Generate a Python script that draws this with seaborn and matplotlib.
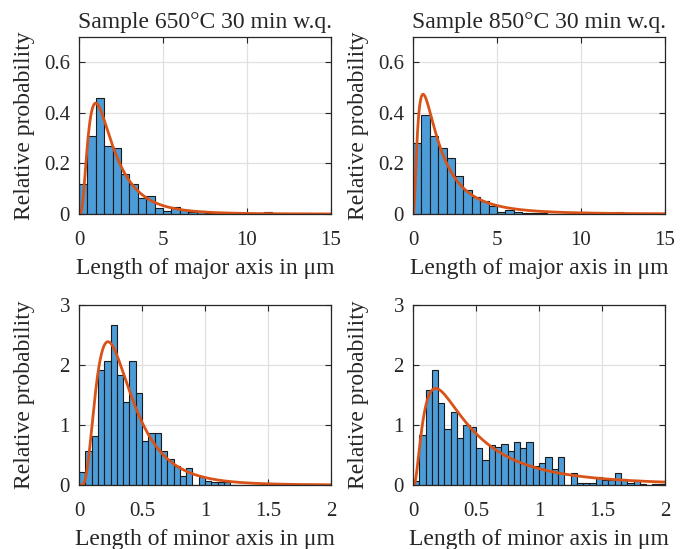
import numpy as np
import pandas as pd
import matplotlib
matplotlib.use("Agg")
import matplotlib.pyplot as plt
import seaborn as sns

# ---------------- data ----------------
titles = ["Sample 650°C 30 min w.q.", "Sample 850°C 30 min w.q."]
xlabel_major = "Length of major axis in μm"
xlabel_minor = "Length of minor axis in μm"
ylabel = "Relative probability"

major_bin_width = 0.5
major_range = (0, 15)
minor_bin_width = 0.05
minor_range = (0, 2)

major_650 = [0.12, 0.31, 0.46, 0.27, 0.26, 0.16, 0.12, 0.063, 0.071, 0.024,
             0.010, 0.026, 0.017, 0.007, 0.010, 0.003, 0.003, 0.0, 0.0, 0.002,
             0.002, 0.0, 0.007, 0.0, 0.0, 0.0, 0.0, 0.0, 0.0, 0.0]
major_850 = [0.28, 0.39, 0.31, 0.26, 0.22, 0.15, 0.093, 0.067, 0.05, 0.03,
             0.009, 0.016, 0.006, 0.005, 0.003, 0.002, 0.0, 0.0, 0.0, 0.0,
             0.009, 0.0, 0.0, 0.0, 0.009, 0.0, 0.0, 0.0, 0.0, 0.0]
minor_650 = [0.21, 0.57, 0.81, 1.92, 2.07, 2.66, 1.84, 1.39, 2.07, 1.54,
             0.73, 0.87, 0.87, 0.57, 0.43, 0.31, 0.15, 0.29, 0.0, 0.14,
             0.07, 0.05, 0.05, 0.05, 0.0, 0.0, 0.0, 0.0, 0.0, 0.0,
             0.0, 0.0, 0.0, 0.0, 0.0, 0.0, 0.0, 0.0, 0.0, 0.0]
minor_850 = [0.07, 0.83, 1.58, 1.92, 1.36, 0.94, 1.21, 0.78, 1.00, 0.97,
             0.62, 0.42, 0.67, 0.63, 0.68, 0.57, 0.72, 0.62, 0.72, 0.31,
             0.37, 0.47, 0.26, 0.47, 0.0, 0.20, 0.04, 0.04, 0.04, 0.14,
             0.08, 0.08, 0.20, 0.10, 0.04, 0.09, 0.02, 0.0, 0.02, 0.02]

# lognormal fit parameters (mu, sigma) of the red curves
fit_major_650 = (0.50, 0.71)
fit_major_850 = (0.335, 0.92)
fit_minor_650 = (-1.104, 0.605)
fit_minor_850 = (-0.887, 0.91)

major_yticks = [0, 0.2, 0.4, 0.6]
major_ylim = (0, 0.7)
major_xticks = [0, 5, 10, 15]
minor_yticks = [0, 1, 2, 3]
minor_ylim = (0, 3)
minor_xticks = [0, 0.5, 1, 1.5, 2]

# ---------------- style ----------------
sns.set_style("ticks")
plt.rcParams["font.family"] = ["Liberation Serif", "DejaVu Serif"]
plt.rcParams["axes.unicode_minus"] = False

BAR_COLOR = "#4C9CD7"
EDGE_COLOR = "#1a1a1a"
LINE_COLOR = "#D95319"
GRID_COLOR = "#e0e0e0"
AX_COLOR = "#262626"
TEXT_COLOR = "#262626"

LABEL_SIZE = 17
TICK_SIZE = 15

fig = plt.figure(figsize=(6.9, 5.49), dpi=100)
W, H = 690, 549

def add_axes(left, top, right, bottom):
    return fig.add_axes([left / W, (H - bottom) / H, (right - left) / W, (bottom - top) / H])

axes = [
    add_axes(79, 37, 331, 214),
    add_axes(413, 37, 665, 214),
    add_axes(79, 305, 331, 485),
    add_axes(413, 305, 665, 485),
]

def lognorm_pdf(x, mu, s):
    x = np.asarray(x, dtype=float)
    out = np.zeros_like(x)
    m = x > 0
    out[m] = np.exp(-(np.log(x[m]) - mu) ** 2 / (2 * s * s)) / (x[m] * s * np.sqrt(2 * np.pi))
    return out

panels = [
    (major_650, major_bin_width, major_range, fit_major_650, major_xticks, major_yticks, major_ylim, xlabel_major, titles[0]),
    (major_850, major_bin_width, major_range, fit_major_850, major_xticks, major_yticks, major_ylim, xlabel_major, titles[1]),
    (minor_650, minor_bin_width, minor_range, fit_minor_650, minor_xticks, minor_yticks, minor_ylim, xlabel_minor, None),
    (minor_850, minor_bin_width, minor_range, fit_minor_850, minor_xticks, minor_yticks, minor_ylim, xlabel_minor, None),
]

for i, (ax, (heights, bw, rng, fit, xt, yt, yl, xlab, title)) in enumerate(zip(axes, panels)):
    n = len(heights)
    centers = rng[0] + bw * (np.arange(n) + 0.5)
    df = pd.DataFrame({"x": centers, "w": heights})
    sns.histplot(data=df, x="x", weights="w", binwidth=bw, binrange=rng, stat="count",
                 color=BAR_COLOR, alpha=1.0, edgecolor=EDGE_COLOR, linewidth=0.8,
                 ax=ax, zorder=2)
    xs = np.linspace(rng[0], rng[1], 800)
    curve = pd.DataFrame({"x": xs, "y": lognorm_pdf(xs, *fit)})
    sns.lineplot(data=curve, x="x", y="y", color=LINE_COLOR, linewidth=2.0, ax=ax, zorder=3)

    ax.set_xlim(*rng)
    ax.set_ylim(*yl)
    ax.set_xticks(xt)
    ax.set_xticklabels([f"{v:g}" for v in xt])
    ax.set_yticks(yt)
    ax.set_yticklabels([f"{v:g}" for v in yt])
    ax.grid(True, color=GRID_COLOR, linewidth=0.9, zorder=0)
    ax.set_axisbelow(True)
    for sp in ax.spines.values():
        sp.set_visible(True)
        sp.set_color(AX_COLOR)
        sp.set_linewidth(0.9)
        sp.set_zorder(5)
    ax.tick_params(direction="in", top=True, right=True, length=4, width=0.8,
                   colors=AX_COLOR, labelcolor=TEXT_COLOR, labelsize=TICK_SIZE)
    ax.tick_params(axis="x", pad=12)
    ax.tick_params(axis="y", pad=6.5)
    ax.set_xlabel(xlab, fontsize=LABEL_SIZE, color=TEXT_COLOR)
    ax.set_ylabel(ylabel, fontsize=LABEL_SIZE, color=TEXT_COLOR)
    ax.yaxis.set_label_coords(-0.175, 0.5)
    if i < 2:
        ax.xaxis.set_label_coords(0.5, -0.246)
    else:
        ax.xaxis.set_label_coords(0.5, -0.242)
    if title:
        ax.set_title(title, fontsize=LABEL_SIZE, color=TEXT_COLOR, pad=6.5)

fig.savefig("out.png", dpi=100)
